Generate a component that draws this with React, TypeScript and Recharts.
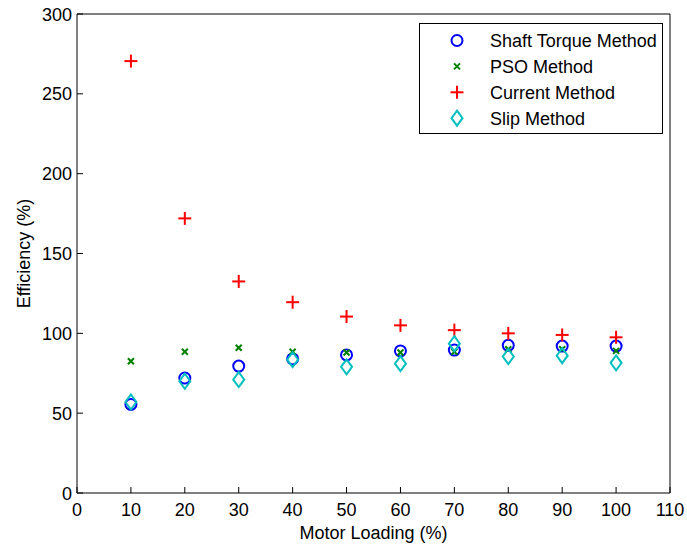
import React from 'react';
import { ScatterChart, Scatter, XAxis, YAxis, Legend, Label } from 'recharts';

// ---- data ----
const loads = [10, 20, 30, 40, 50, 60, 70, 80, 90, 100];
const shaftTorque = [55.5, 72, 79.5, 84, 86.5, 89, 89.5, 92.5, 92, 92];
const psoMethod = [82.5, 88.5, 91, 88.5, 88, 88, 88.5, 90, 90, 89];
const currentMethod = [270.5, 172, 132.5, 119.5, 110.5, 105, 102, 100, 99, 97.5];
const slipMethod = [57, 70, 71, 83.5, 79, 81, 93.5, 85.5, 86, 81.5];
const xTicks = [0, 10, 20, 30, 40, 50, 60, 70, 80, 90, 100, 110];
const yTicks = [0, 50, 100, 150, 200, 250, 300];
const seriesNames = ['Shaft Torque Method', 'PSO Method', 'Current Method', 'Slip Method'];

const FONT = 'Arial, "Liberation Sans", Helvetica, sans-serif';
const FS = 18;
const TL = 6;

const toPoints = (ys: number[]) => loads.map((x, i) => ({ x, y: ys[i] }));

const CircleMark = ({ cx, cy }: any) => (
  <circle cx={cx} cy={cy} r={5.5} fill="none" stroke="#0000FF" strokeWidth={2} />
);
const XMark = ({ cx, cy }: any) => (
  <g stroke="#008000" strokeWidth={2}>
    <line x1={cx - 3} y1={cy - 3} x2={cx + 3} y2={cy + 3} />
    <line x1={cx - 3} y1={cy + 3} x2={cx + 3} y2={cy - 3} />
  </g>
);
const PlusMark = ({ cx, cy }: any) => (
  <g stroke="#FF0000" strokeWidth={2}>
    <line x1={cx - 6.5} y1={cy} x2={cx + 6.5} y2={cy} />
    <line x1={cx} y1={cy - 6.5} x2={cx} y2={cy + 6.5} />
  </g>
);
const DiamondMark = ({ cx, cy }: any) => (
  <polygon
    points={`${cx},${cy - 7.5} ${cx + 5.5},${cy} ${cx},${cy + 7.5} ${cx - 5.5},${cy}`}
    fill="none"
    stroke="#00BFBF"
    strokeWidth={2}
  />
);
const marks = [CircleMark, XMark, PlusMark, DiamondMark];

const BottomTick = ({ x, y, payload }: any) => (
  <g>
    <line x1={x} x2={x} y1={y} y2={y - TL} stroke="#000" />
    <text x={x} y={y + 23} textAnchor="middle" fontSize={FS} fontFamily={FONT} fill="#000">
      {payload.value}
    </text>
  </g>
);
const TopTick = ({ x, y }: any) => <line x1={x} x2={x} y1={y} y2={y + TL} stroke="#000" />;
const LeftTick = ({ x, y, payload }: any) => (
  <g>
    <line x1={x} x2={x + TL} y1={y} y2={y} stroke="#000" />
    <text x={x - 5} y={y + 6.5} textAnchor="end" fontSize={FS} fontFamily={FONT} fill="#000">
      {payload.value}
    </text>
  </g>
);
const RightTick = ({ x, y }: any) => <line x1={x} x2={x - TL} y1={y} y2={y} stroke="#000" />;

const XLabel = ({ viewBox }: any) => (
  <text
    x={viewBox.x + viewBox.width / 2}
    y={viewBox.y + 46}
    textAnchor="middle"
    fontSize={FS}
    fontFamily={FONT}
    fill="#000"
  >
    Motor Loading (%)
  </text>
);
const YLabel = ({ viewBox }: any) => {
  const cx = viewBox.x + 30;
  const cy = viewBox.y + viewBox.height / 2;
  return (
    <text
      x={cx}
      y={cy}
      transform={`rotate(-90, ${cx}, ${cy})`}
      textAnchor="middle"
      fontSize={FS}
      fontFamily={FONT}
      fill="#000"
    >
      Efficiency (%)
    </text>
  );
};

const LegendBox = () => (
  <svg width={245} height={112} style={{ display: 'block' }}>
    <rect x={0.5} y={0.5} width={243} height={110} fill="#fff" stroke="#000" />
    {seriesNames.map((name, i) => {
      const M = marks[i];
      const cy = 17.5 + 25.9 * i;
      return (
        <g key={name}>
          <M cx={38} cy={cy} />
          <text x={71} y={cy + 6.5} fontSize={FS} fontFamily={FONT} fill="#000">
            {name}
          </text>
        </g>
      );
    })}
  </svg>
);

const seriesData = [shaftTorque, psoMethod, currentMethod, slipMethod];

export default function App() {
  return (
    <div style={{ position: 'absolute', left: 0, top: 0, width: 687, height: 550, background: '#fff' }}>
      <ScatterChart width={687} height={550} margin={{ top: 0, right: 0, bottom: 0, left: 0 }}>
        <XAxis
          xAxisId="b"
          dataKey="x"
          type="number"
          domain={[0, 110]}
          ticks={xTicks}
          interval={0}
          orientation="bottom"
          height={57}
          tickSize={0}
          tickMargin={0}
          tickLine={false}
          tick={<BottomTick />}
          axisLine={{ stroke: '#000' }}
        >
          <Label content={<XLabel />} />
        </XAxis>
        <XAxis
          xAxisId="t"
          dataKey="x"
          type="number"
          domain={[0, 110]}
          ticks={xTicks}
          interval={0}
          orientation="top"
          height={14}
          tickSize={0}
          tickMargin={0}
          tickLine={false}
          tick={<TopTick />}
          axisLine={{ stroke: '#000' }}
        />
        <YAxis
          yAxisId="l"
          dataKey="y"
          type="number"
          domain={[0, 300]}
          ticks={yTicks}
          interval={0}
          orientation="left"
          width={77}
          tickSize={0}
          tickMargin={0}
          tickLine={false}
          tick={<LeftTick />}
          axisLine={{ stroke: '#000' }}
        >
          <Label content={<YLabel />} />
        </YAxis>
        <YAxis
          yAxisId="r"
          dataKey="y"
          type="number"
          domain={[0, 300]}
          ticks={yTicks}
          interval={0}
          orientation="right"
          width={17}
          tickSize={0}
          tickMargin={0}
          tickLine={false}
          tick={<RightTick />}
          axisLine={{ stroke: '#000' }}
        />
        {seriesData.map((ys, i) => {
          const M = marks[i];
          return (
            <Scatter
              key={seriesNames[i]}
              name={seriesNames[i]}
              xAxisId="b"
              yAxisId="l"
              data={toPoints(ys)}
              dataKey="y"
              shape={(p: any) => <M cx={p.cx} cy={p.cy} />}
              isAnimationActive={false}
            />
          );
        })}
        <Legend
          layout="horizontal"
          align="center"
          verticalAlign="middle"
          wrapperStyle={{ left: 419, top: 23, width: 245, height: 112 }}
          content={<LegendBox />}
        />
      </ScatterChart>
    </div>
  );
}
